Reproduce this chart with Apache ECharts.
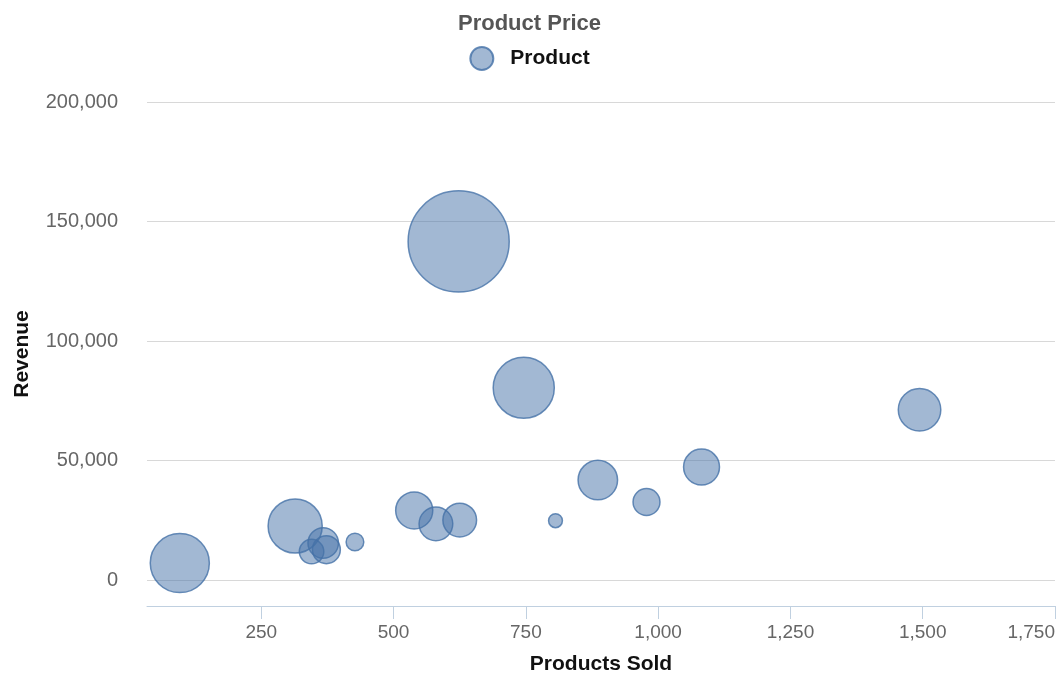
<!DOCTYPE html>
<html>
<head>
<meta charset="utf-8">
<title>Product Price</title>
<script src="https://cdn.jsdelivr.net/npm/echarts@6/dist/echarts.min.js"></script>
<style>
  html, body { margin: 0; padding: 0; background: #fff; }
  #chart { width: 1059px; height: 678px; }
</style>
</head>
<body>
<div id="chart"></div>
<script>
// values
const productsSold = [96, 314, 345, 367, 373, 427, 539, 580, 625, 623, 746, 806, 886, 978, 1082, 1494];
const revenue = [7200, 22700, 12000, 15600, 12800, 16000, 29200, 23600, 25200, 141700, 80500, 24900, 41900, 32750, 47350, 71300];
const bubbleValues = [918, 773, 169, 256, 216, 92, 372, 310, 310, 2632, 980, 59, 420, 202, 350, 484];
const xTicks = [250, 500, 750, 1000, 1250, 1500, 1750];
const yTicks = [0, 50000, 100000, 150000, 200000];

const font = "'Liberation Sans', Arial, Helvetica, sans-serif";
const colors = {
  fill: "rgba(69,114,167,0.5)",
  border: "rgba(69,114,167,0.8)",
  grid: "#d8d8d8",
  axis: "#c0d0e0",
  label: "#666",
  title: "#555",
  name: "#111",
};

const points = productsSold.map((x, i) => [x, revenue[i], bubbleValues[i]]);

const chart = echarts.init(document.getElementById("chart"), null, { renderer: "canvas" });

const fmt = (v) => Number(v).toLocaleString("en-US");

chart.setOption({
  animation: false,
  textStyle: { fontFamily: font },
  title: {
    text: "Product Price",
    left: "center",
    top: 8,
    textStyle: { color: colors.title, fontSize: 22, fontWeight: "bold", fontFamily: font },
  },
  legend: {
    top: 41,
    left: "center",
    icon: "circle",
    itemWidth: 23,
    itemHeight: 23,
    textStyle: { color: colors.name, fontSize: 21, fontWeight: "bold", fontFamily: font, padding: [0, 0, 0, 12] },
    data: ["Product"],
  },
  grid: { left: 147, right: 4, top: 102, bottom: 72, outerBoundsMode: "none" },
  xAxis: {
    type: "value",
    min: 34,
    max: 1750,
    name: "Products Sold",
    nameLocation: "middle",
    nameGap: 48,
    nameTextStyle: { color: colors.name, fontSize: 21, fontWeight: "bold", fontFamily: font },
    axisLine: { show: true, onZero: false, lineStyle: { color: colors.axis, width: 1 } },
    axisTick: { show: true, length: 13, customValues: xTicks, lineStyle: { color: colors.axis } },
    axisLabel: {
      customValues: xTicks,
      alignMaxLabel: "right",
      margin: 17,
      color: colors.label,
      fontSize: 19,
      fontFamily: font,
      formatter: fmt,
    },
    splitLine: { show: false },
  },
  yAxis: {
    type: "value",
    min: -10750,
    max: 200000,
    name: "Revenue",
    nameLocation: "middle",
    nameGap: 114,
    nameTextStyle: { color: colors.name, fontSize: 21, fontWeight: "bold", fontFamily: font },
    axisLine: { show: false, onZero: false },
    axisTick: { show: false, customValues: yTicks },
    axisLabel: { customValues: yTicks, margin: 29, color: colors.label, fontSize: 20, fontFamily: font, formatter: fmt },
    splitLine: { show: true, lineStyle: { color: colors.grid, width: 1 } },
  },
  series: [
    {
      name: "Product",
      type: "scatter",
      data: points,
      symbol: "circle",
      symbolSize: (d) => 2 * Math.sqrt(d[2]) - 1.5,
      itemStyle: { color: colors.fill, borderColor: colors.border, borderWidth: 1.5, opacity: 1 },
      emphasis: { disabled: true },
    },
  ],
});
</script>
</body>
</html>
